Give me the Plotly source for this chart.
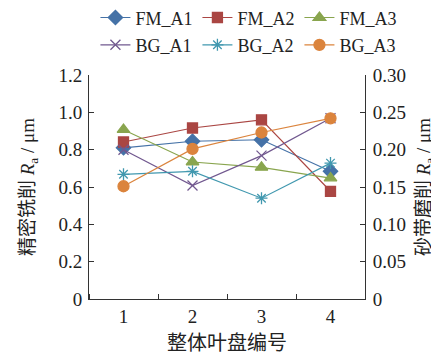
import plotly.graph_objects as go

categories = [1, 2, 3, 4]
fm_a1 = [0.81, 0.845, 0.853, 0.684]
fm_a2 = [0.841, 0.916, 0.96, 0.577]
fm_a3 = [0.907, 0.734, 0.705, 0.648]
bg_a1 = [0.200, 0.152, 0.192, 0.242]
bg_a2 = [0.167, 0.171, 0.135, 0.182]
bg_a3 = [0.151, 0.201, 0.223, 0.242]

left_ticks = [0, 0.2, 0.4, 0.6, 0.8, 1.0, 1.2]
left_ticktext = ["0", "0.2", "0.4", "0.6", "0.8", "1.0", "1.2"]
right_ticks = [0, 0.05, 0.10, 0.15, 0.20, 0.25, 0.30]
right_ticktext = ["0", "0.05", "0.10", "0.15", "0.20", "0.25", "0.30"]
x_ticktext = ["1", "2", "3", "4"]

FONT = "Liberation Serif, Times New Roman, Noto Sans CJK SC, serif"

series = [
    ("FM_A1", fm_a1, "y", "#4572A7", "diamond", 11, "legend"),
    ("FM_A2", fm_a2, "y", "#AA4643", "square", 10, "legend"),
    ("FM_A3", fm_a3, "y", "#89A54E", "triangle-up", 11, "legend"),
    ("BG_A1", bg_a1, "y2", "#71588F", "x-thin-open", 10, "legend2"),
    ("BG_A2", bg_a2, "y2", "#4198AF", "asterisk-open", 10, "legend2"),
    ("BG_A3", bg_a3, "y2", "#DB843D", "circle", 11, "legend2"),
]

fig = go.Figure()
for name, vals, ax, col, sym, size, lg in series:
    fig.add_trace(go.Scatter(
        x=categories, y=vals, name=name, yaxis=ax, mode="lines+markers",
        legend=lg,
        line=dict(color=col, width=1.2),
        marker=dict(symbol=sym, size=size, color=col, line=dict(color=col, width=1.3)),
    ))

legend_common = dict(orientation="h", xanchor="right", yanchor="top",
                     entrywidth=57, entrywidthmode="pixels", font=dict(size=18),
                     itemwidth=30, bgcolor="rgba(0,0,0,0)", borderwidth=0)

axis_line = dict(showline=True, linecolor="#333", linewidth=1, showgrid=False, zeroline=False)

fig.update_layout(
    width=439, height=353,
    margin=dict(l=81, r=82, t=67, b=62, autoexpand=False),
    paper_bgcolor="white", plot_bgcolor="white",
    font=dict(family=FONT, size=19, color="#222"),
    showlegend=True,
    legend=dict(x=1.132, y=1.338, **legend_common),
    legend2=dict(x=1.132, y=1.216, **legend_common),
    xaxis=dict(range=[0.5, 4.5], tickvals=categories, ticktext=x_ticktext,
               ticks="", ticklabelstandoff=0, **axis_line,
               minor=dict(tickmode="linear", tick0=0.5, dtick=1, ticks="inside", ticklen=5, tickcolor="#333"),
               title=dict(text="整体叶盘编号", font=dict(size=20), standoff=10)),
    yaxis=dict(range=[0, 1.2], tickvals=left_ticks, ticktext=left_ticktext,
               ticks="inside", ticklen=5, tickcolor="#333", ticklabelstandoff=2, **axis_line,
               title=dict(text="精密铣削 <i>R</i><sub>a</sub> / μm", font=dict(size=19), standoff=18)),
    yaxis2=dict(range=[0, 0.3], tickvals=right_ticks, ticktext=right_ticktext,
                overlaying="y", side="right",
                ticks="inside", ticklen=5, tickcolor="#333", ticklabelstandoff=3, **axis_line,
                title=dict(text="砂带磨削 <i>R</i><sub>a</sub> / μm", font=dict(size=19), standoff=11)),
)

fig.write_html("out.html")
